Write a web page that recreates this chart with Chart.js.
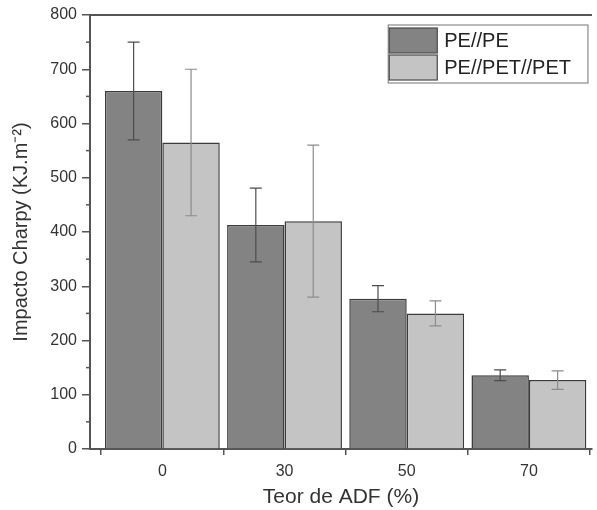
<!DOCTYPE html>
<html>
<head>
<meta charset="utf-8">
<script src="https://cdn.jsdelivr.net/npm/chart.js@4/dist/chart.umd.min.js"></script>
<style>
  html, body { margin: 0; padding: 0; background: #ffffff; }
  #wrap { width: 597px; height: 510px; }
</style>
</head>
<body>
<div id="wrap"><canvas id="c" width="597" height="510"></canvas></div>
<script>
// Fibre content groups (x axis) and the two laminate series
const categories = ['0', '30', '50', '70'];
const seriesNames = ['PE//PE', 'PE//PET//PET'];
const pePe = [660, 413, 277, 136];
const pePeErr = [90, 68, 24, 10];
const pePetPet = [565, 420, 250, 127];
const pePetPetErr = [135, 140, 23, 17];
const yMin = 0, yMax = 800, yStep = 100;

const FONT = '"Liberation Sans", Arial, sans-serif';
const AXIS = '#555555';
const TEXT = '#333333';

const toPoints = (vals) => vals.map((v, i) => ({ x: i, y: v }));

// Error bars drawn from each dataset's "errors" array
const errorBars = {
  id: 'errorBars',
  afterDatasetsDraw(chart) {
    const ctx = chart.ctx;
    const yScale = chart.scales.y;
    chart.data.datasets.forEach((ds, di) => {
      const meta = chart.getDatasetMeta(di);
      ctx.save();
      ctx.strokeStyle = ds.errorColor;
      ctx.lineWidth = 1.2;
      meta.data.forEach((bar, i) => {
        const v = ds.data[i].y, e = ds.errors[i];
        const top = yScale.getPixelForValue(v + e);
        const bot = yScale.getPixelForValue(v - e);
        const cap = 6;
        ctx.beginPath();
        ctx.moveTo(bar.x, top); ctx.lineTo(bar.x, bot);
        ctx.moveTo(bar.x - cap, top); ctx.lineTo(bar.x + cap, top);
        ctx.moveTo(bar.x - cap, bot); ctx.lineTo(bar.x + cap, bot);
        ctx.stroke();
      });
      ctx.restore();
    });
  }
};

// Minor y ticks halfway between labelled ticks, plus the top frame line
const frame = {
  id: 'frame',
  afterDraw(chart) {
    const { ctx, chartArea } = chart;
    const y = chart.scales.y;
    ctx.save();
    ctx.strokeStyle = AXIS;
    ctx.lineWidth = 2;
    ctx.beginPath();
    ctx.moveTo(chartArea.left - 1, chartArea.top);
    ctx.lineTo(chartArea.right, chartArea.top);
    ctx.stroke();
    ctx.lineWidth = 1.5;
    const t = y.ticks;
    for (let i = 0; i + 1 < t.length; i++) {
      const p = y.getPixelForValue((t[i].value + t[i + 1].value) / 2);
      ctx.beginPath();
      ctx.moveTo(chartArea.left - 4, p);
      ctx.lineTo(chartArea.left, p);
      ctx.stroke();
    }
    ctx.restore();
  }
};

// Boxed legend in the upper right corner of the plot
const boxLegend = {
  id: 'boxLegend',
  afterDraw(chart) {
    const { ctx, chartArea } = chart;
    const ds = chart.data.datasets;
    ctx.save();
    ctx.font = '20px ' + FONT;
    const textW = Math.max(...ds.map(d => ctx.measureText(d.label).width));
    const swW = 48, rowH = 27, gap = 7;
    const w = swW + gap + textW + 18;
    const h = rowH * ds.length + 4;
    const x0 = chartArea.right - 4 - w;
    const y0 = chartArea.top + 10;
    ctx.fillStyle = '#ffffff';
    ctx.fillRect(x0, y0, w, h);
    ctx.strokeStyle = '#8a8a8a';
    ctx.lineWidth = 1.2;
    ctx.strokeRect(x0, y0, w, h);
    ds.forEach((d, i) => {
      const ry = y0 + 3 + i * rowH;
      ctx.fillStyle = d.backgroundColor;
      ctx.fillRect(x0 + 1, ry, swW, rowH - 2);
      ctx.strokeStyle = '#4a4a4a';
      ctx.lineWidth = 1.2;
      ctx.strokeRect(x0 + 1, ry, swW, rowH - 2);
      ctx.fillStyle = '#222222';
      ctx.textBaseline = 'middle';
      ctx.textAlign = 'left';
      ctx.fillText(d.label, x0 + 1 + swW + gap, ry + (rowH - 2) / 2 + 1);
    });
    ctx.restore();
  }
};

// The x ticks sit every half group (boundaries and centres), so the bar
// width ruler is half a group wide; the category share is doubled to match.
const GROUP_SHARE = 0.94 * 2;

new Chart(document.getElementById('c'), {
  type: 'bar',
  data: {
    datasets: [
      {
        label: seriesNames[0],
        data: toPoints(pePe),
        errors: pePeErr,
        errorColor: '#4d4d4d',
        backgroundColor: '#838383',
        borderColor: '#3c3c3c',
        borderWidth: 1.5,
        categoryPercentage: GROUP_SHARE,
        barPercentage: 1.0
      },
      {
        label: seriesNames[1],
        data: toPoints(pePetPet),
        errors: pePetPetErr,
        errorColor: '#8c8c8c',
        backgroundColor: '#c4c4c4',
        borderColor: '#3c3c3c',
        borderWidth: 1.5,
        categoryPercentage: GROUP_SHARE,
        barPercentage: 1.0
      }
    ]
  },
  options: {
    responsive: false,
    animation: false,
    devicePixelRatio: 1,
    layout: { padding: { top: 15, right: 0, left: 0, bottom: 0 } },
    plugins: { legend: { display: false }, tooltip: { enabled: false } },
    scales: {
      x: {
        type: 'linear',
        min: -0.592,
        max: 3.516,
        offset: false,
        bounds: 'data',
        afterBuildTicks(s) {
          const t = [];
          for (let i = -1; i <= categories.length * 2 - 1; i++) t.push({ value: i / 2 });
          s.ticks = t;
        },
        afterFit(s) { s.height = 61; },
        grid: {
          offset: false,
          drawOnChartArea: false,
          tickLength: 6,
          lineWidth: 1.5,
          tickColor: (c) => Number.isInteger(c.tick.value) ? 'rgba(0,0,0,0)' : AXIS
        },
        border: { color: AXIS, width: 2 },
        ticks: {
          autoSkip: false,
          maxRotation: 0,
          padding: 7,
          color: TEXT,
          font: { family: FONT, size: 16 },
          callback: (v) => Number.isInteger(v) ? categories[v] : ''
        },
        title: {
          display: true,
          text: 'Teor de ADF (%)',
          color: TEXT,
          font: { family: FONT, size: 21 },
          padding: { top: 0, bottom: 0 }
        }
      },
      y: {
        min: yMin,
        max: yMax,
        afterFit(s) { s.width = 90; },
        grid: {
          drawOnChartArea: false,
          tickLength: 8,
          lineWidth: 1.5,
          tickColor: AXIS
        },
        border: { color: AXIS, width: 2 },
        ticks: {
          stepSize: yStep,
          padding: 5,
          color: TEXT,
          font: { family: FONT, size: 16 }
        },
        title: {
          display: true,
          text: 'Impacto Charpy (KJ.m\u207B\u00B2)',
          color: TEXT,
          font: { family: FONT, size: 20 },
          padding: { top: 9, bottom: 0 }
        }
      }
    }
  },
  plugins: [errorBars, frame, boxLegend]
});
</script>
</body>
</html>
